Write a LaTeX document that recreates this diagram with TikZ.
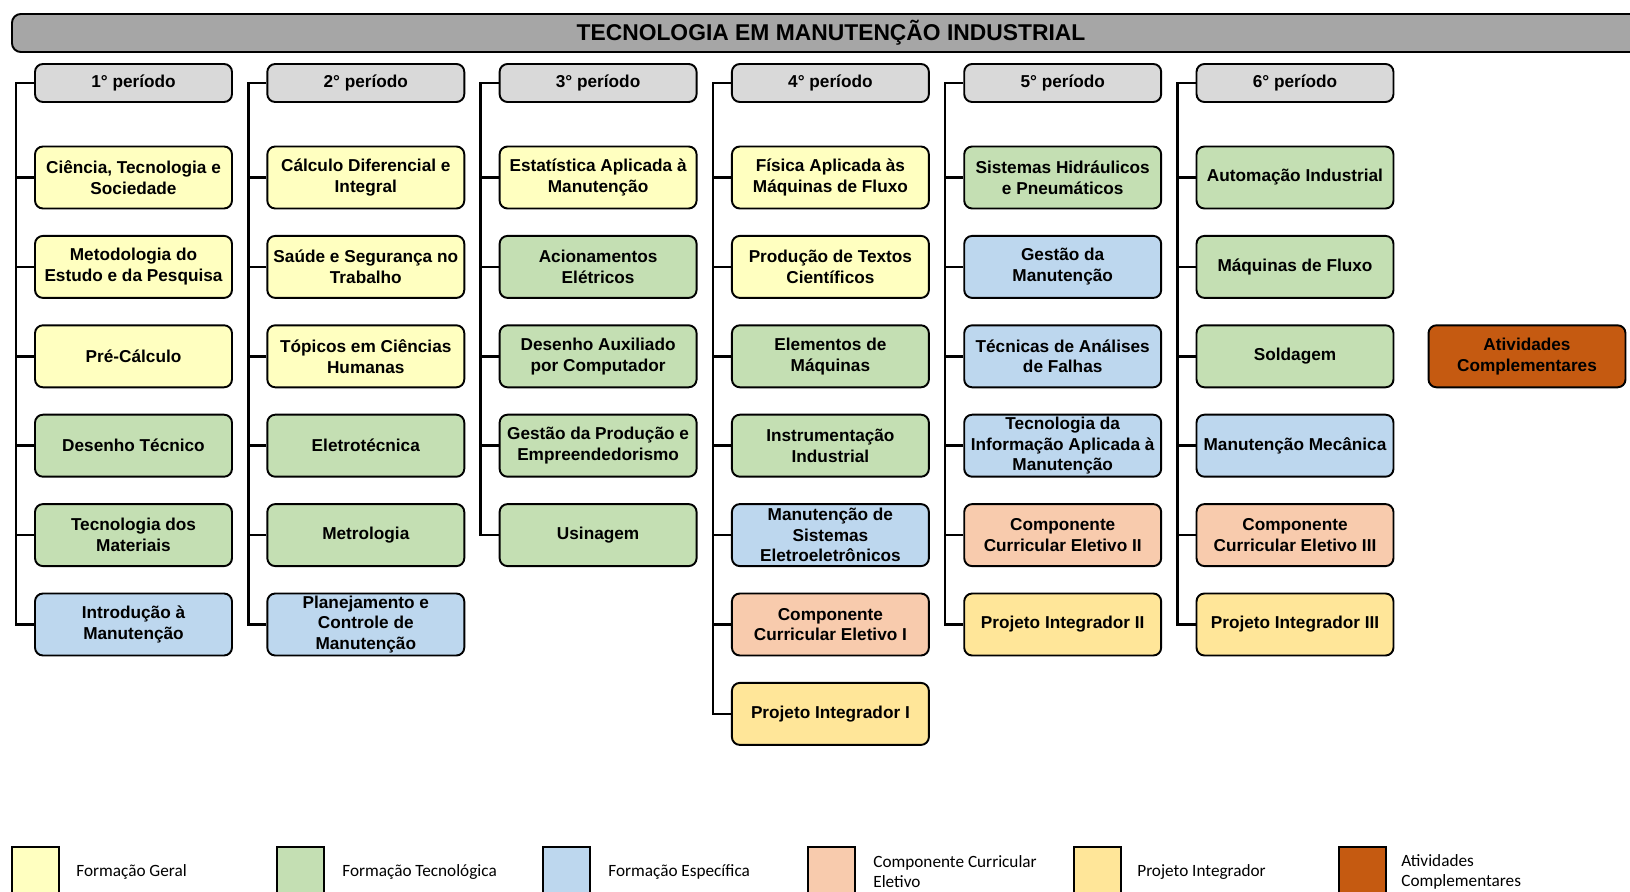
\documentclass[tikz,border=0pt]{standalone}
\usepackage{fontspec}
\setmainfont{Liberation Sans}
\newfontfamily\legfont{Carlito}
\definecolor{titulo}{HTML}{A6A6A6}
\definecolor{cabec}{HTML}{D9D9D9}
\definecolor{geral}{HTML}{FFFFC0}
\definecolor{tecno}{HTML}{C4DFB3}
\definecolor{espec}{HTML}{BDD7EE}
\definecolor{eletivo}{HTML}{F8CBAD}
\definecolor{projeto}{HTML}{FFE699}
\definecolor{ativ}{HTML}{C55A11}

\begin{document}
\begin{tikzpicture}[x=0.02cm,y=-0.02cm,
  disc/.style={draw,rounded corners=4.5pt,line width=1.1pt,
    minimum width=3.94cm,minimum height=1.24cm,inner sep=1pt,align=center,
    font=\fontsize{9.8}{11.8}\selectfont\bfseries},
  periodo/.style={disc,fill=cabec,minimum height=0.76cm},
  conn/.style={line width=1.4pt},
  legbox/.style={draw,line width=0.8pt},
  legtxt/.style={anchor=west,align=left,inner sep=0pt,
    font=\legfont\fontsize{9.8}{11.4}\selectfont}]
\useasboundingbox (0,0) rectangle (1630,892);
\def\xA{133.5}
\def\xB{365.8}
\def\xC{598.1}
\def\xD{830.4}
\def\xE{1062.7}
\def\xF{1295}
\def\yA{177.5}
\def\yB{266.9}
\def\yC{356.3}
\def\yD{445.7}
\def\yE{535.1}
\def\yF{624.5}
\def\yG{713.9}

\draw[line width=1.1pt,rounded corners=5pt,fill=titulo] (12,14) rectangle (1690,52);
\node[font=\fontsize{13}{15}\selectfont\bfseries] (tit) at (831,32.5) {TECNOLOGIA EM MANUTENÇÃO INDUSTRIAL};

\node[periodo] (p1) at (\xA,83) {1° período};
\node[periodo] (p2) at (\xB,83) {2° período};
\node[periodo] (p3) at (\xC,83) {3° período};
\node[periodo] (p4) at (\xD,83) {4° período};
\node[periodo] (p5) at (\xE,83) {5° período};
\node[periodo] (p6) at (\xF,83) {6° período};

% 1o periodo
\node[disc,fill=geral] (d11) at (\xA,\yA) {Ciência, Tecnologia e\\Sociedade};
\node[disc,fill=geral] (d12) at (\xA,\yB) {Metodologia do\\Estudo e da Pesquisa};
\node[disc,fill=geral] (d13) at (\xA,\yC) {Pré-Cálculo};
\node[disc,fill=tecno] (d14) at (\xA,\yD) {Desenho Técnico};
\node[disc,fill=tecno] (d15) at (\xA,\yE) {Tecnologia dos\\Materiais};
\node[disc,fill=espec] (d16) at (\xA,\yF) {Introdução à\\Manutenção};

% 2o periodo
\node[disc,fill=geral] (d21) at (\xB,\yA) {Cálculo Diferencial e\\Integral};
\node[disc,fill=geral] (d22) at (\xB,\yB) {Saúde e Segurança no\\Trabalho};
\node[disc,fill=geral] (d23) at (\xB,\yC) {Tópicos em Ciências\\Humanas};
\node[disc,fill=tecno] (d24) at (\xB,\yD) {Eletrotécnica};
\node[disc,fill=tecno] (d25) at (\xB,\yE) {Metrologia};
\node[disc,fill=espec] (d26) at (\xB,\yF) {Planejamento e\\Controle de\\Manutenção};

% 3o periodo
\node[disc,fill=geral] (d31) at (\xC,\yA) {Estatística Aplicada à\\Manutenção};
\node[disc,fill=tecno] (d32) at (\xC,\yB) {Acionamentos\\Elétricos};
\node[disc,fill=tecno] (d33) at (\xC,\yC) {Desenho Auxiliado\\por Computador};
\node[disc,fill=tecno] (d34) at (\xC,\yD) {Gestão da Produção e\\Empreendedorismo};
\node[disc,fill=tecno] (d35) at (\xC,\yE) {Usinagem};

% 4o periodo
\node[disc,fill=geral] (d41) at (\xD,\yA) {Física Aplicada às\\Máquinas de Fluxo};
\node[disc,fill=geral] (d42) at (\xD,\yB) {Produção de Textos\\Científicos};
\node[disc,fill=tecno] (d43) at (\xD,\yC) {Elementos de\\Máquinas};
\node[disc,fill=tecno] (d44) at (\xD,\yD) {Instrumentação\\Industrial};
\node[disc,fill=espec] (d45) at (\xD,\yE) {Manutenção de\\Sistemas\\Eletroeletrônicos};
\node[disc,fill=eletivo] (d46) at (\xD,\yF) {Componente\\Curricular Eletivo I};
\node[disc,fill=projeto] (d47) at (\xD,\yG) {Projeto Integrador I};

% 5o periodo
\node[disc,fill=tecno] (d51) at (\xE,\yA) {Sistemas Hidráulicos\\e Pneumáticos};
\node[disc,fill=espec] (d52) at (\xE,\yB) {Gestão da\\Manutenção};
\node[disc,fill=espec] (d53) at (\xE,\yC) {Técnicas de Análises\\de Falhas};
\node[disc,fill=espec] (d54) at (\xE,\yD) {Tecnologia da\\Informação Aplicada à\\Manutenção};
\node[disc,fill=eletivo] (d55) at (\xE,\yE) {Componente\\Curricular Eletivo II};
\node[disc,fill=projeto] (d56) at (\xE,\yF) {Projeto Integrador II};

% 6o periodo
\node[disc,fill=tecno] (d61) at (\xF,\yA) {Automação Industrial};
\node[disc,fill=tecno] (d62) at (\xF,\yB) {Máquinas de Fluxo};
\node[disc,fill=tecno] (d63) at (\xF,\yC) {Soldagem};
\node[disc,fill=espec] (d64) at (\xF,\yD) {Manutenção Mecânica};
\node[disc,fill=eletivo] (d65) at (\xF,\yE) {Componente\\Curricular Eletivo III};
\node[disc,fill=projeto] (d66) at (\xF,\yF) {Projeto Integrador III};

\node[disc,fill=ativ] (ac) at (1527,\yC) {Atividades\\Complementares};

% ligacoes
\draw[conn] (p1.west) -- ++(-18,0) |- (d16.west);
\foreach \r in {1,...,5} \draw[conn] (d1\r.west) -- ++(-18,0);
\draw[conn] (p2.west) -- ++(-18,0) |- (d26.west);
\foreach \r in {1,...,5} \draw[conn] (d2\r.west) -- ++(-18,0);
\draw[conn] (p3.west) -- ++(-18,0) |- (d35.west);
\foreach \r in {1,...,4} \draw[conn] (d3\r.west) -- ++(-18,0);
\draw[conn] (p4.west) -- ++(-18,0) |- (d47.west);
\foreach \r in {1,...,6} \draw[conn] (d4\r.west) -- ++(-18,0);
\draw[conn] (p5.west) -- ++(-18,0) |- (d56.west);
\foreach \r in {1,...,5} \draw[conn] (d5\r.west) -- ++(-18,0);
\draw[conn] (p6.west) -- ++(-18,0) |- (d66.west);
\foreach \r in {1,...,5} \draw[conn] (d6\r.west) -- ++(-18,0);

% legenda
\draw[legbox,fill=geral] (12,847) rectangle (59,900);
\draw[legbox,fill=tecno] (277,847) rectangle (324,900);
\draw[legbox,fill=espec] (543,847) rectangle (590,900);
\draw[legbox,fill=eletivo] (808,847) rectangle (855,900);
\draw[legbox,fill=projeto] (1074,847) rectangle (1121,900);
\draw[legbox,fill=ativ] (1339,847) rectangle (1386,900);
\node[legtxt] (lg1) at (76,872) {Formação Geral};
\node[legtxt] (lg2) at (342,872) {Formação Tecnológica};
\node[legtxt] (lg3) at (608,872) {Formação Específica};
\node[legtxt] (lg4) at (873,872) {Componente Curricular\\Eletivo};
\node[legtxt] (lg5) at (1137,872) {Projeto Integrador};
\node[legtxt] (lg6) at (1401,872) {Atividades\\Complementares};
\end{tikzpicture}
\end{document}
